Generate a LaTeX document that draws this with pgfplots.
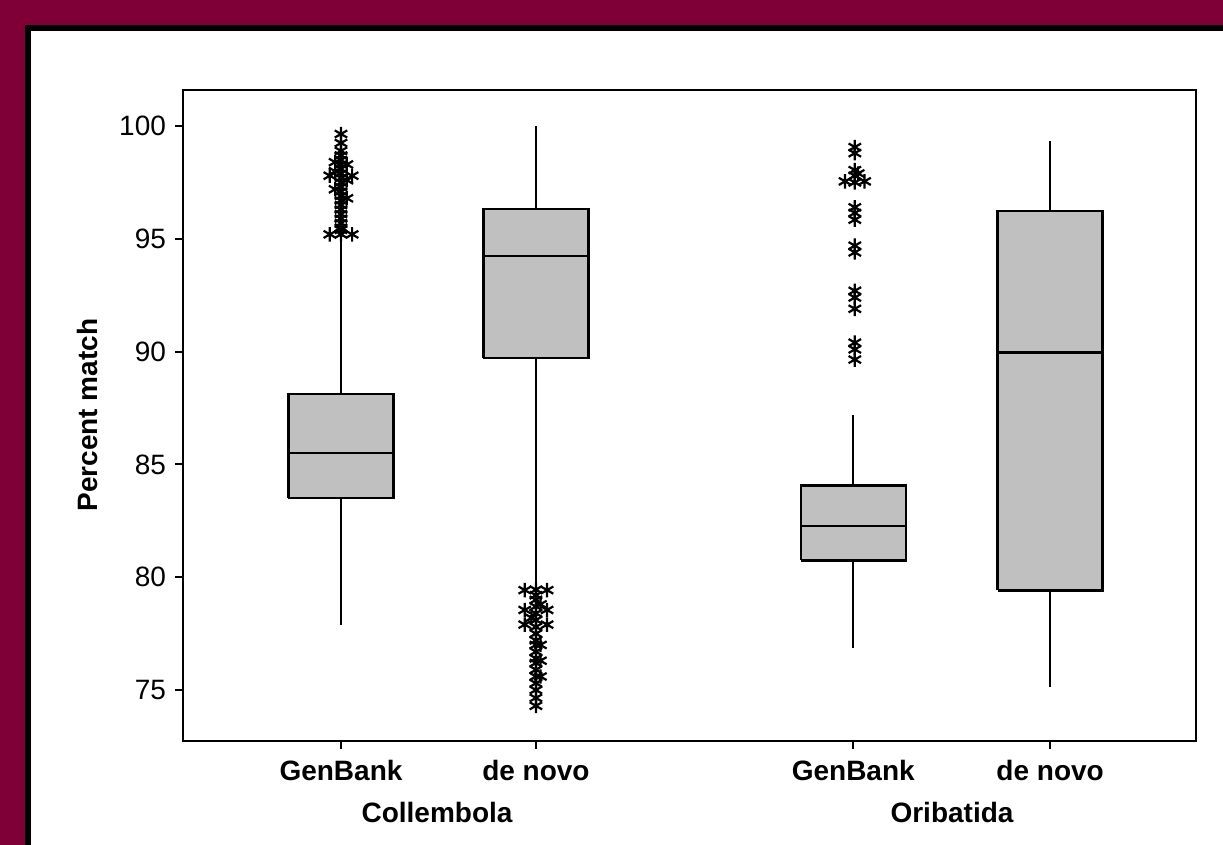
\documentclass[border=0pt]{standalone}
\usepackage{pgfplots}
\pgfplotsset{compat=1.18}
\usepackage{fontspec}
\setmainfont{Liberation Sans}
\definecolor{maroon}{RGB}{127,0,55}
\definecolor{boxgray}{RGB}{192,192,192}
\begin{document}
\begin{tikzpicture}
\useasboundingbox (0,0) rectangle (611.5bp,-422.5bp);
\fill[maroon] (0,0) rectangle (611.5bp,-422.5bp);
\fill[white] (13bp,-13bp) rectangle (611.5bp,-422.5bp);
\fill[black] (13bp,-12.5bp) rectangle (611.5bp,-15.5bp);
\fill[black] (12.5bp,-12.5bp) rectangle (15.5bp,-422.5bp);
\begin{axis}[
  at={(91.5bp,-370.5bp)}, anchor=south west,
  scale only axis, width=506.5bp, height=325.5bp,
  xmin=0.192, xmax=5.373, ymin=72.74, ymax=101.6,
  ytick={75,80,85,90,95,100},
  xtick={1,1.997,3.62,4.627},
  xticklabels={GenBank,de novo,GenBank,de novo},
  xticklabel style={font=\fontsize{14bp}{16bp}\selectfont\bfseries, yshift=-2bp},
  yticklabel style={font=\fontsize{14bp}{16bp}\selectfont, xshift=-1bp},
  /pgf/number format/assume math mode=true,
  tick align=outside, major tick length=4bp,
  xtick pos=bottom, ytick pos=left,
  axis line style={line width=1bp},
  every tick/.style={line width=1bp, black},
  clip=false,
]
% whiskers
\addplot[black, line width=1.1bp] coordinates {(1,77.88)(1,83.51)};
\addplot[black, line width=1.1bp] coordinates {(1,88.12)(1,95.1)};
\addplot[black, line width=1.1bp] coordinates {(1.997,79.5)(1.997,89.72)};
\addplot[black, line width=1.1bp] coordinates {(1.997,96.32)(1.997,100)};
\addplot[black, line width=1.1bp] coordinates {(3.62,76.86)(3.62,80.75)};
\addplot[black, line width=1.1bp] coordinates {(3.62,84.07)(3.62,87.2)};
\addplot[black, line width=1.1bp] coordinates {(4.627,75.13)(4.627,79.42)};
\addplot[black, line width=1.1bp] coordinates {(4.627,96.24)(4.627,99.34)};
% boxes
\addplot[draw=black, fill=boxgray, line width=1.2bp, line join=miter] coordinates {(0.7315,83.51)(1.2685,83.51)(1.2685,88.12)(0.7315,88.12)(0.7315,83.51)};
\addplot[draw=black, fill=boxgray, line width=1.2bp, line join=miter] coordinates {(1.7285,89.72)(2.2655,89.72)(2.2655,96.32)(1.7285,96.32)(1.7285,89.72)};
\addplot[draw=black, fill=boxgray, line width=1.2bp, line join=miter] coordinates {(3.3515,80.75)(3.8885,80.75)(3.8885,84.07)(3.3515,84.07)(3.3515,80.75)};
\addplot[draw=black, fill=boxgray, line width=1.2bp, line join=miter] coordinates {(4.3585,79.42)(4.8955,79.42)(4.8955,96.24)(4.3585,96.24)(4.3585,79.42)};
% medians
\addplot[black, line width=1.1bp] coordinates {(0.7315,85.5)(1.2685,85.5)};
\addplot[black, line width=1.1bp] coordinates {(1.7285,94.24)(2.2655,94.24)};
\addplot[black, line width=1.1bp] coordinates {(3.3515,82.26)(3.8885,82.26)};
\addplot[black, line width=1.1bp] coordinates {(4.3585,89.96)(4.8955,89.96)};
% outliers Collembola GenBank
\addplot[only marks, mark=asterisk, mark size=3.6bp, mark options={line width=1.1bp, black}] coordinates {
(1,95.2)(1,95.4)(1,95.5)(1,95.7)(1,95.9)(1,96.1)(1,96.3)(1,96.5)(1,96.7)(1,96.9)(1,97.1)(1,97.3)(1,97.5)(1,97.7)(1,97.9)(1,98.1)(1,98.3)(1,98.5)(1,98.7)(1,98.9)(1,99.25)(1,99.65)
(0.943,97.8)(1.057,97.8)(0.97,98.0)(1.03,97.6)(0.97,97.2)(1.03,96.8)(0.943,95.2)(1.057,95.2)(0.97,98.4)(1.03,98.3)
};
% outliers Collembola de novo
\addplot[only marks, mark=asterisk, mark size=3.6bp, mark options={line width=1.1bp, black}] coordinates {
(1.997,74.3)(1.997,74.65)(1.997,75.0)(1.997,75.3)(1.997,75.6)(1.997,75.9)(1.997,76.2)(1.997,76.4)(1.997,76.7)(1.997,77.0)(1.997,77.2)(1.997,77.5)(1.997,77.8)(1.997,78.1)(1.997,78.4)(1.997,78.7)(1.997,79.0)(1.997,79.2)(1.997,79.45)
(1.94,79.43)(2.054,79.43)(1.94,78.55)(2.054,78.55)(1.94,77.9)(2.054,77.9)(2.02,77.0)(2.02,76.3)(2.02,75.6)(1.975,78.2)(2.02,78.8)
};
% outliers Oribatida GenBank
\addplot[only marks, mark=asterisk, mark size=3.6bp, mark options={line width=1.1bp, black}] coordinates {
(3.628,99.07)(3.628,98.8)(3.628,98.05)(3.628,97.8)(3.578,97.55)(3.678,97.55)(3.628,97.5)(3.645,97.9)
(3.628,96.4)(3.628,96.15)(3.628,95.85)(3.628,94.7)(3.628,94.4)
(3.628,92.7)(3.628,92.4)(3.628,91.9)(3.628,90.4)(3.628,90.1)(3.628,89.65)
};
\end{axis}
\node[rotate=90, font=\fontsize{14bp}{16bp}\selectfont\bfseries] at (43.5bp,-207.5bp) {Percent match};
\node[font=\fontsize{14bp}{16bp}\selectfont\bfseries] at (218.5bp,-406bp) {Collembola};
\node[font=\fontsize{14bp}{16bp}\selectfont\bfseries] at (476bp,-406bp) {Oribatida};
\end{tikzpicture}
\end{document}
